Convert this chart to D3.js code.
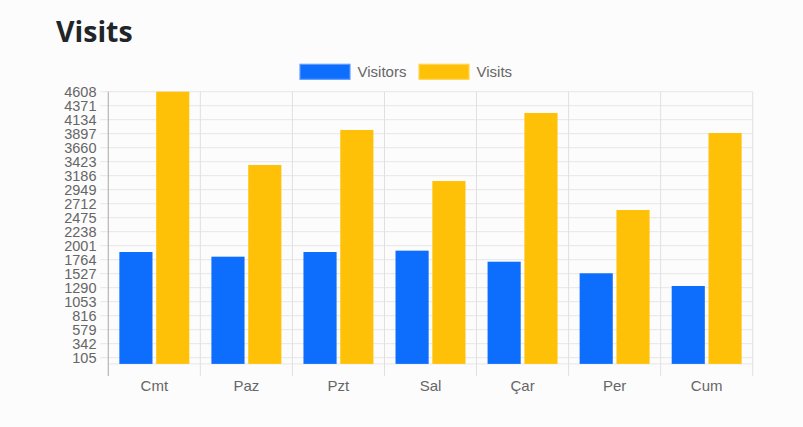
<!DOCTYPE html>
<html><head><meta charset="utf-8">
<script src="https://cdn.jsdelivr.net/npm/d3@7/dist/d3.min.js"></script>
<style>
html,body{margin:0;padding:0;background:#fcfcfc;}
svg{display:block;}
</style></head>
<body>
<svg id="c" width="803" height="427"></svg>
<script>
const categories = ["Cmt","Paz","Pzt","Sal","Çar","Per","Cum"];
const seriesNames = ["Visitors","Visits"];
const visitors = [1894,1815,1894,1917,1730,1534,1319];
const visits = [4608,3367,3960,3096,4248,2605,3909];
const yTicks = [105,342,579,816,1053,1290,1527,1764,2001,2238,2475,2712,2949,3186,3423,3660,3897,4134,4371,4608];
const colors = ["#0d6efd","#ffc107"];
const borders = ["#5a9bff","#ffd452"];

const svg = d3.select("#c");
const L = 108.3, R = 752.7, T = 91.7, B = 363.9;
const font = "'Liberation Sans', Arial, Helvetica, sans-serif";

svg.append("text").attr("x",56).attr("y",42.3)
  .attr("font-family","'Open Sans', 'Noto Sans', sans-serif").attr("font-weight",700)
  .attr("font-size",28.5).attr("fill","#212529").text("Visits");

const x0 = d3.scaleBand().domain(categories).range([L,R]).padding(0);
const x1 = d3.scaleBand().domain(seriesNames).range([x0.bandwidth()*0.1, x0.bandwidth()*0.9])
  .paddingInner(0.1).paddingOuter(0.05);
const y = d3.scaleLinear().domain([0,4608]).range([B,T]);

// horizontal grid
const g = svg.append("g");
g.selectAll("line.h").data(yTicks).join("line")
  .attr("x1",L-8).attr("x2",R).attr("y1",d=>y(d)).attr("y2",d=>y(d))
  .attr("stroke","#e6e6e6").attr("stroke-width",1);
g.append("line").attr("x1",L).attr("x2",R).attr("y1",B).attr("y2",B).attr("stroke","#e6e6e6");
// vertical grid
const vx = categories.map(c=>x0(c)).concat([R]);
g.selectAll("line.v").data(vx.slice(1)).join("line")
  .attr("x1",d=>d).attr("x2",d=>d).attr("y1",T).attr("y2",B+12)
  .attr("stroke","#e0e0e0").attr("stroke-width",1);
// left axis
g.append("line").attr("x1",L).attr("x2",L).attr("y1",T).attr("y2",B+12)
  .attr("stroke","#b5b5b5").attr("stroke-width",1.2);

// y labels
svg.append("g").selectAll("text").data(yTicks).join("text")
  .attr("x",96.5).attr("y",d=>y(d)).attr("dy","0.35em").attr("text-anchor","end")
  .attr("font-family",font).attr("font-size",14.5).attr("fill","#666").text(d=>d);

// x labels
svg.append("g").selectAll("text").data(categories).join("text")
  .attr("x",d=>x0(d)+x0.bandwidth()/2).attr("y",390.5).attr("text-anchor","middle")
  .attr("font-family",font).attr("font-size",15).attr("fill","#666").text(d=>d);

// bars
const data = [visitors, visits];
const bars = svg.append("g");
seriesNames.forEach((s,si)=>{
  bars.selectAll("rect.s"+si).data(categories).join("rect")
    .attr("x",(c)=>x0(c)+x1(s)).attr("width",x1.bandwidth())
    .attr("y",(c,i)=>y(data[si][i])).attr("height",(c,i)=>B-y(data[si][i]))
    .attr("fill",colors[si]);
});

// legend
const leg = svg.append("g");
const legX = [300, 419];
seriesNames.forEach((s,i)=>{
  leg.append("rect").attr("x",legX[i]).attr("y",64.3).attr("width",50).attr("height",15)
    .attr("fill",colors[i]).attr("stroke",borders[i]).attr("stroke-width",1.2);
  leg.append("text").attr("x",legX[i]+57.5).attr("y",72).attr("dy","0.35em")
    .attr("font-family",font).attr("font-size",15).attr("fill","#666").text(s);
});
</script>
</body></html>
